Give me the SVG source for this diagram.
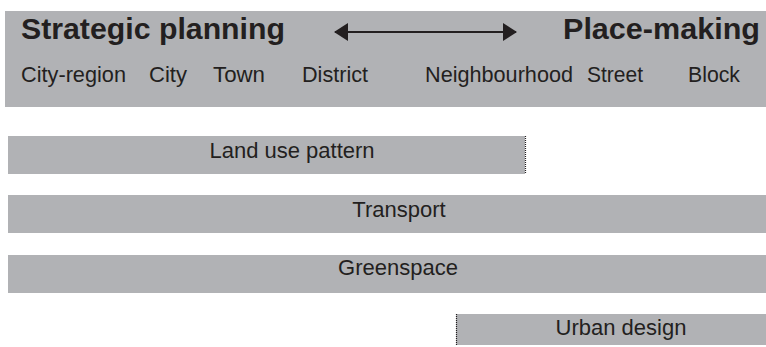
<svg xmlns="http://www.w3.org/2000/svg" width="766" height="347" viewBox="0 0 766 347">
  <style>
    .band { fill: #b1b2b5; }
    .title { font-family: "Liberation Sans", Arial, sans-serif; font-weight: bold; font-size: 30px; fill: #231f20; }
    .scale { font-family: "Liberation Sans", Arial, sans-serif; font-size: 22px; fill: #231f20; }
    .label { font-family: "Liberation Sans", Arial, sans-serif; font-size: 22px; fill: #231f20; text-anchor: middle; }
    .edge { stroke: #231f20; stroke-width: 1.2; stroke-dasharray: 1 1; fill: none; }
    .arrow { stroke: #231f20; stroke-width: 2; fill: none; }
  </style>
  <defs>
    <marker id="head" viewBox="0 0 14 18" refX="13" refY="9" markerWidth="14" markerHeight="18" markerUnits="userSpaceOnUse" orient="auto-start-reverse">
      <path d="M0,0 L14,9 L0,18 Z" fill="#231f20"/>
    </marker>
  </defs>

  <!-- scale header -->
  <g id="header">
    <rect class="band" x="5" y="11" width="761" height="96"/>
    <text class="title" x="21" y="39" textLength="264" lengthAdjust="spacingAndGlyphs">Strategic planning</text>
    <text class="title" x="563" y="39" textLength="197" lengthAdjust="spacingAndGlyphs">Place-making</text>
    <text class="scale" x="21" y="82" textLength="105" lengthAdjust="spacingAndGlyphs">City-region</text>
    <text class="scale" x="149" y="82" textLength="38" lengthAdjust="spacingAndGlyphs">City</text>
    <text class="scale" x="213" y="82" textLength="52" lengthAdjust="spacingAndGlyphs">Town</text>
    <text class="scale" x="302" y="82" textLength="66" lengthAdjust="spacingAndGlyphs">District</text>
    <text class="scale" x="425" y="82" textLength="148" lengthAdjust="spacingAndGlyphs">Neighbourhood</text>
    <text class="scale" x="587" y="82" textLength="56" lengthAdjust="spacingAndGlyphs">Street</text>
    <text class="scale" x="688" y="82" textLength="52" lengthAdjust="spacingAndGlyphs">Block</text>
  </g>

  <g id="connectors">
    <line class="arrow" x1="335" y1="32" x2="516" y2="32" marker-start="url(#head)" marker-end="url(#head)"/>
  </g>

  <g id="land-use">
    <rect class="band" x="8" y="136" width="517" height="38"/>
    <line class="edge" x1="525.5" y1="136" x2="525.5" y2="174"/>
    <text class="label" x="292" y="158">Land use pattern</text>
  </g>

  <g id="transport">
    <rect class="band" x="8" y="195" width="758" height="38"/>
    <text class="label" x="399" y="217">Transport</text>
  </g>

  <g id="greenspace">
    <rect class="band" x="8" y="255" width="758" height="38"/>
    <text class="label" x="398" y="275">Greenspace</text>
  </g>

  <g id="urban-design">
    <rect class="band" x="456" y="314" width="310" height="31"/>
    <line class="edge" x1="456.5" y1="314" x2="456.5" y2="345"/>
    <text class="label" x="621" y="335">Urban design</text>
  </g>
</svg>
